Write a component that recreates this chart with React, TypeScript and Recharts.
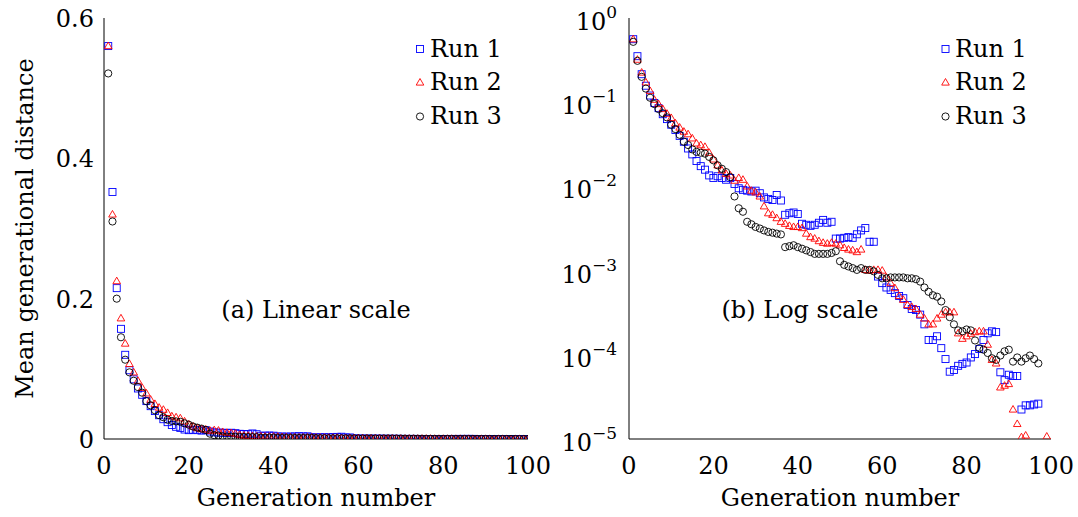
import React from 'react';
import { ScatterChart, Scatter, XAxis, YAxis } from 'recharts';

const generations = Array.from({ length: 100 }, (_, i) => i + 1);

const run1 = [
  0.56, 0.352, 0.215, 0.157, 0.12, 0.098, 0.085, 0.072, 0.063, 0.054,
  0.0468, 0.0398, 0.0339, 0.0282, 0.024, 0.02, 0.0174, 0.0158, 0.0135, 0.0126,
  0.0132, 0.0126, 0.012, 0.0126, 0.0107, 0.0095, 0.0091, 0.0089, 0.0087, 0.0089,
  0.0083, 0.0074, 0.0071, 0.0069, 0.0079, 0.0068, 0.0046, 0.0048, 0.0049, 0.0047,
  0.0036, 0.0035, 0.0034, 0.0035, 0.0037, 0.004, 0.0037, 0.0038, 0.0024, 0.0024,
  0.00245, 0.0025, 0.00245, 0.0027, 0.003, 0.0032, 0.0022, 0.0022, 0.00085, 0.00071,
  0.00063, 0.00059, 0.00054, 0.0005, 0.00047, 0.00039, 0.00035, 0.00034, 0.0003, 0.00023,
  0.00015, 0.00015, 0.000166, 0.00012, 0.000089, 0.000063, 0.000066, 0.000074, 0.000078, 0.000081,
  0.000093, 0.000102, 0.000117, 0.00015, 0.00018, 0.00019, 0.000186, 0.000062, 0.00005, 0.000058,
  0.000056, 0.000056, 0.0000224, 0.0000251, 0.0000251, 0.0000257, 0.0000263, 0, 0, 0,
];

const run2 = [
  0.56, 0.32, 0.225, 0.172, 0.136, 0.107, 0.095, 0.083, 0.073, 0.065,
  0.056, 0.05, 0.0447, 0.0417, 0.0372, 0.0324, 0.0309, 0.0295, 0.0251, 0.0209,
  0.0178, 0.0155, 0.0141, 0.0135, 0.0117, 0.0126, 0.012, 0.01, 0.0089, 0.0085,
  0.0076, 0.0058, 0.0048, 0.0046, 0.0042, 0.0038, 0.0036, 0.0034, 0.0033, 0.0033,
  0.0032, 0.00275, 0.0025, 0.0024, 0.00224, 0.00214, 0.00209, 0.00214, 0.00209, 0.002,
  0.00186, 0.00178, 0.00174, 0.00166, 0.00178, 0.00102, 0.001, 0.00102, 0.00102, 0.001,
  0.00083, 0.00071, 0.00062, 0.0005, 0.00045, 0.00039, 0.00037, 0.00035, 0.0003, 0.00027,
  0.00023, 0.00023, 0.00027, 0.0003, 0.00032, 0.00032, 0.00032, 0.00018, 0.000155, 0.000166,
  0.000178, 0.000186, 0.00019, 0.00019, 0.000132, 0.000087, 0.000079, 0.000041, 0.000043, 0.000045,
  0.0000224, 0.0000151, 0.0000105, 0.000011, 0, 0, 0, 0, 0.0000107, 0,
];

const run3 = [
  0.521, 0.31, 0.2, 0.145, 0.113, 0.095, 0.083, 0.074, 0.066, 0.054,
  0.048, 0.041, 0.034, 0.031, 0.0275, 0.0257, 0.0251, 0.0245, 0.0224, 0.0204,
  0.0178, 0.0162, 0.0148, 0.0129, 0.0076, 0.0055, 0.005, 0.0038, 0.00355, 0.0033,
  0.00316, 0.003, 0.00288, 0.00282, 0.00275, 0.00269, 0.0019, 0.00195, 0.002, 0.0019,
  0.00182, 0.00174, 0.00166, 0.00158, 0.00158, 0.00158, 0.00158, 0.00162, 0.0017, 0.00129,
  0.00117, 0.00112, 0.00107, 0.00102, 0.00107, 0.00102, 0.00102, 0.00098, 0.00089, 0.00081,
  0.00081, 0.00083, 0.00083, 0.00083, 0.00083, 0.00081, 0.00081, 0.00079, 0.00074, 0.00063,
  0.00056, 0.00051, 0.00049, 0.00043, 0.00034, 0.00028, 0.00023, 0.000195, 0.00019, 0.0002,
  0.000195, 0.000148, 0.00012, 0.000115, 0.000105, 0.000091, 0.000087, 0.000098, 0.00011, 0.000115,
  0.000083, 0.000093, 0.000083, 0.000091, 0.000098, 0.000089, 0.000079, 0, 0, 0,
];

const seriesNames = ['Run 1', 'Run 2', 'Run 3'];
const xTicks = [0, 20, 40, 60, 80, 100];
const linearYTicks = [0, 0.2, 0.4, 0.6];
const linearYLabels = ['0', '0.2', '0.4', '0.6'];
const logYTicks = [1, 0.1, 0.01, 0.001, 0.0001, 0.00001];
const logYExponents = ['0', '−1', '−2', '−3', '−4', '−5'];
const logMinorTicks = [
  0.00002, 0.00003, 0.00004, 0.00005, 0.00006, 0.00007, 0.00008, 0.00009,
  0.0002, 0.0003, 0.0004, 0.0005, 0.0006, 0.0007, 0.0008, 0.0009,
  0.002, 0.003, 0.004, 0.005, 0.006, 0.007, 0.008, 0.009,
  0.02, 0.03, 0.04, 0.05, 0.06, 0.07, 0.08, 0.09,
  0.2, 0.3, 0.4, 0.5, 0.6, 0.7, 0.8, 0.9,
];
const panelTitles = ['(a) Linear scale', '(b) Log scale'];
const xAxisTitle = 'Generation number';
const yAxisTitle = 'Mean generational distance';

const FONT = '"DejaVu Serif", serif';
const FS = 24;
const TICK = '#9a9a9a';
const BLUE = '#0000ff';
const RED = '#ff0000';
const BLACK = '#000000';

const toPoints = (vals: number[]) => generations.map((g, i) => ({ x: g, y: vals[i] }));
const linearData = [run1, run2, run3].map(toPoints);
const logData = linearData.map((pts) => pts.filter((p) => p.y >= 0.00001));

const SquareMark = (p: any) =>
  p.cx == null ? null : (
    <rect x={p.cx - 3.5} y={p.cy - 3.5} width={7} height={7} fill="none" stroke={BLUE} strokeWidth={0.9} />
  );
const TriangleMark = (p: any) =>
  p.cx == null ? null : (
    <polygon
      points={`${p.cx},${p.cy - 4} ${p.cx + 3.8},${p.cy + 2.6} ${p.cx - 3.8},${p.cy + 2.6}`}
      fill="none"
      stroke={RED}
      strokeWidth={0.9}
    />
  );
const CircleMark = (p: any) =>
  p.cx == null ? null : <circle cx={p.cx} cy={p.cy} r={3.6} fill="none" stroke={BLACK} strokeWidth={0.9} />;

const marks = [SquareMark, TriangleMark, CircleMark];

const XTick = (props: any) => {
  const { x, y, payload } = props;
  return (
    <text x={x} y={y + 35} textAnchor="middle" fontFamily={FONT} fontSize={FS} fill="#000">
      {payload.value}
    </text>
  );
};

const LinYTick = (props: any) => {
  const { x, y, payload } = props;
  const idx = linearYTicks.indexOf(payload.value);
  return (
    <text x={x - 10} y={y + 9} textAnchor="end" fontFamily={FONT} fontSize={FS} fill="#000">
      {linearYLabels[idx]}
    </text>
  );
};

const LogYTick = (props: any) => {
  const { x, y, payload } = props;
  const idx = logYTicks.findIndex((t) => Math.abs(Math.log10(t) - Math.log10(payload.value)) < 1e-6);
  return (
    <text x={x - 12} y={y + 12} textAnchor="end" fontFamily={FONT} fontSize={FS} fill="#000">
      <tspan>10</tspan>
      <tspan dy={-12} fontSize={17}>
        {logYExponents[idx]}
      </tspan>
    </text>
  );
};

function Panel({ log }: { log: boolean }) {
  const data = log ? logData : linearData;
  const W = log ? 518 : 560;
  const yW = log ? 69 : 104;
  const mr = log ? 27 : 32;
  const yDomain: [number, number] = log ? [0.00001, 1] : [0, 0.6];
  const yScale = log ? 'log' : 'linear';
  const yTicks = log ? logYTicks : linearYTicks;
  return (
    <ScatterChart width={W} height={517} margin={{ top: 18, right: mr, bottom: 0, left: 0 }}>
      <XAxis
        xAxisId="b"
        dataKey="x"
        type="number"
        domain={[0, 100]}
        ticks={xTicks}
        interval={0}
        allowDataOverflow
        height={78}
        tickLine={false}
        tickSize={0}
        tickMargin={0}
        axisLine={{ stroke: '#000', strokeWidth: 1 }}
        tick={<XTick />}
      />
      <XAxis
        xAxisId="bm"
        orientation="bottom"
        mirror
        type="number"
        domain={[0, 100]}
        ticks={xTicks}
        interval={0}
        allowDataOverflow
        height={0}
        tick={false}
        tickSize={10}
        tickLine={{ stroke: TICK }}
        axisLine={false}
      />
      <XAxis
        xAxisId="t"
        orientation="top"
        mirror
        type="number"
        domain={[0, 100]}
        ticks={xTicks}
        interval={0}
        allowDataOverflow
        height={0}
        tick={false}
        tickSize={10}
        tickLine={{ stroke: TICK }}
        axisLine={{ stroke: '#000', strokeWidth: 1 }}
      />
      <YAxis
        yAxisId="l"
        dataKey="y"
        type="number"
        scale={yScale as any}
        domain={yDomain}
        ticks={yTicks}
        interval={0}
        allowDataOverflow
        width={yW}
        tickLine={false}
        tickSize={0}
        tickMargin={0}
        axisLine={{ stroke: '#000', strokeWidth: 1 }}
        tick={log ? <LogYTick /> : <LinYTick />}
      />
      <YAxis
        yAxisId="lm"
        orientation="left"
        mirror
        type="number"
        scale={yScale as any}
        domain={yDomain}
        ticks={yTicks}
        interval={0}
        allowDataOverflow
        width={0}
        tick={false}
        tickSize={10}
        tickLine={{ stroke: TICK }}
        axisLine={false}
      />
      <YAxis
        yAxisId="r"
        orientation="right"
        mirror
        type="number"
        scale={yScale as any}
        domain={yDomain}
        ticks={yTicks}
        interval={0}
        allowDataOverflow
        width={0}
        tick={false}
        tickSize={10}
        tickLine={{ stroke: TICK }}
        axisLine={{ stroke: '#000', strokeWidth: 1 }}
      />
      {log && (
        <YAxis
          yAxisId="lmin"
          orientation="left"
          mirror
          type="number"
          scale="log"
          domain={yDomain}
          ticks={logMinorTicks}
          interval={0}
          allowDataOverflow
          width={0}
          tick={false}
          tickSize={6}
          tickLine={{ stroke: TICK }}
          axisLine={false}
        />
      )}
      {log && (
        <YAxis
          yAxisId="rmin"
          orientation="right"
          mirror
          type="number"
          scale="log"
          domain={yDomain}
          ticks={logMinorTicks}
          interval={0}
          allowDataOverflow
          width={0}
          tick={false}
          tickSize={6}
          tickLine={{ stroke: TICK }}
          axisLine={false}
        />
      )}
      {data.map((pts, i) => (
        <Scatter
          key={seriesNames[i]}
          name={seriesNames[i]}
          xAxisId="b"
          yAxisId="l"
          data={pts}
          shape={marks[i]}
          isAnimationActive={false}
        />
      ))}
    </ScatterChart>
  );
}

function LegendBox({ mx, tx, rows, baselines }: { mx: number; tx: number; rows: number[]; baselines: number[] }) {
  return (
    <g>
      {seriesNames.map((name, i) => {
        const cy = rows[i];
        const Mark = marks[i];
        return (
          <g key={name}>
            <Mark cx={mx} cy={cy} />
            <text x={tx} y={baselines[i]} fontFamily={FONT} fontSize={FS} fill="#000">
              {name}
            </text>
          </g>
        );
      })}
    </g>
  );
}

export default function App() {
  return (
    <div style={{ position: 'absolute', left: 0, top: 0, width: 1078, height: 517, background: '#fff' }}>
      <div style={{ position: 'absolute', left: 0, top: 0 }}>
        <Panel log={false} />
      </div>
      <div style={{ position: 'absolute', left: 560, top: 0 }}>
        <Panel log={true} />
      </div>
      <svg
        width={1078}
        height={517}
        style={{ position: 'absolute', left: 0, top: 0, pointerEvents: 'none' }}
      >
        <LegendBox mx={420} tx={430} rows={[49, 82.5, 116.5]} baselines={[56.5, 90, 123.5]} />
        <LegendBox mx={945.5} tx={955} rows={[49, 82.5, 116.5]} baselines={[56.5, 90, 123.5]} />
        <text x={316} y={318} textAnchor="middle" fontFamily={FONT} fontSize={FS} fill="#000">
          {panelTitles[0]}
        </text>
        <text x={800} y={318} textAnchor="middle" fontFamily={FONT} fontSize={FS} fill="#000">
          {panelTitles[1]}
        </text>
        <text x={316} y={506} textAnchor="middle" fontFamily={FONT} fontSize={FS} fill="#000">
          {xAxisTitle}
        </text>
        <text x={840} y={506} textAnchor="middle" fontFamily={FONT} fontSize={FS} fill="#000">
          {xAxisTitle}
        </text>
        <text
          x={33}
          y={228.5}
          textAnchor="middle"
          transform="rotate(-90 33 228.5)"
          fontFamily={FONT}
          fontSize={FS}
          fill="#000"
        >
          {yAxisTitle}
        </text>
      </svg>
    </div>
  );
}
